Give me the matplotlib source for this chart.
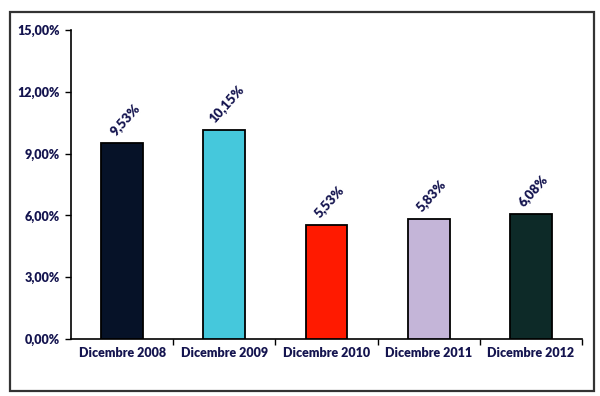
import matplotlib.pyplot as plt
from matplotlib.patches import Rectangle
from matplotlib.ticker import FixedLocator

categorie = ["Dicembre 2008", "Dicembre 2009", "Dicembre 2010", "Dicembre 2011", "Dicembre 2012"]
valori = [9.53, 10.15, 5.53, 5.83, 6.08]
etichette = ["9,53%", "10,15%", "5,53%", "5,83%", "6,08%"]
colori = ["#061228", "#45c8dc", "#ff1a00", "#c4b5d8", "#0d2a28"]
yticks = [0, 3, 6, 9, 12, 15]
ytick_labels = ["0,00%", "3,00%", "6,00%", "9,00%", "12,00%", "15,00%"]

navy = "#14144f"
plt.rcParams['font.family'] = ['Lato', 'DejaVu Sans']

fig = plt.figure(figsize=(6, 3.96), dpi=100)
fig.patches.append(Rectangle((10 / 600, 1 - 391 / 396), 584 / 600, 379 / 396,
                             transform=fig.transFigure, fill=False,
                             edgecolor="#333333", linewidth=1.6))

ax = fig.add_axes([71 / 600, 1 - 339 / 396, 511 / 600, 309 / 396])
x = list(range(len(categorie)))
ax.bar(x, valori, width=0.41, color=colori, edgecolor="black", linewidth=1.3, zorder=3)

for xi, v, t in zip(x, valori, etichette):
    ax.text(xi + 0.03, v + 0.25, t, rotation=48, ha="center", va="bottom",
            color=navy, fontsize=9.5, fontweight="heavy")

ax.set_xlim(-0.5, len(categorie) - 0.5)
ax.set_ylim(0, 15)
ax.set_yticks(yticks)
ax.set_yticklabels(ytick_labels, color=navy, fontsize=9, fontweight="heavy")
ax.set_xticks(x)
ax.set_xticklabels(categorie, color=navy, fontsize=9, fontweight="heavy")
ax.tick_params(axis="x", which="major", length=0, pad=6)
ax.xaxis.set_minor_locator(FixedLocator([i + 0.5 for i in x]))
ax.tick_params(axis="x", which="minor", length=4, width=1, direction="out")
ax.tick_params(axis="y", length=4, width=1, direction="out", pad=4)

for s in ["top", "right"]:
    ax.spines[s].set_visible(False)
for s in ["left", "bottom"]:
    ax.spines[s].set_linewidth(1.2)

fig.savefig("out.png", dpi=100)
